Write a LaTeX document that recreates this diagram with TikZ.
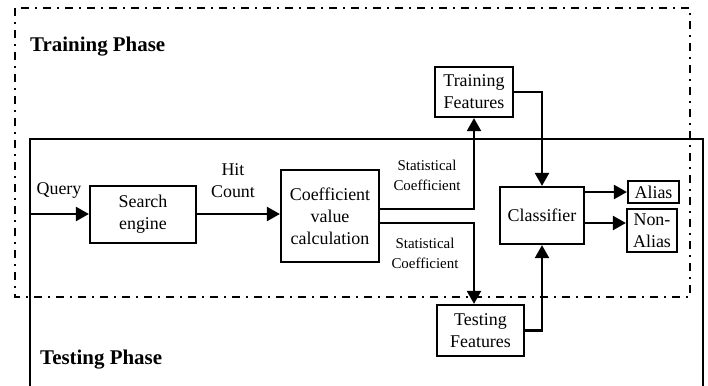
\documentclass[tikz,border=0pt]{standalone}
\usepackage{fontspec}
\setmainfont{Liberation Serif}
\usetikzlibrary{arrows.meta,calc}
\tikzset{
  block/.style={draw, line width=2.2bp, align=center, inner sep=0pt,
    font=\fontsize{18}{22}\selectfont},
  lbl/.style={align=center, inner sep=0pt, font=\fontsize{18}{22}\selectfont},
  small/.style={align=center, inner sep=0pt, font=\fontsize{15}{20}\selectfont},
  phase/.style={anchor=west, inner sep=0pt, font=\fontsize{21}{24}\selectfont\bfseries},
  arr/.style={line width=2.2bp, -{Triangle[length=13bp,width=14bp]}},
  dashdot/.style={line width=1.8bp, dash pattern=on 8bp off 6bp on 2bp off 6bp},
}
\begin{document}
\begin{tikzpicture}[x=1bp, y=-1bp]
\useasboundingbox (0,0) rectangle (708,385);

% phase frames
\draw[dashdot] (15,8) rectangle (690,297);
\draw[line width=1.7bp] (30,390) -- (30,139) -- (703,139) -- (703,390);
\node[phase] (trainph) at (30,47) {Training Phase};
\node[phase] (testph) at (40,360) {Testing Phase};

% blocks
\node[block, minimum width=106bp, minimum height=57bp] (search) at (143,214.5) {Search\\engine};
\node[block, minimum width=98bp, minimum height=92bp] (coef) at (330,216) {Coefficient\\value\\calculation};
\node[block, minimum width=78bp, minimum height=50bp] (trainf) at (474,92) {Training\\Features};
\node[block, minimum width=87bp, minimum height=51bp] (testf) at (480.5,330.5) {Testing\\Features};
\node[block, minimum width=84bp, minimum height=57bp] (clf) at (542,215.5) {Classifier};
\node[block, minimum width=51bp, minimum height=22bp] (alias) at (653.5,192) {Alias};
\node[block, minimum width=50bp, minimum height=43bp] (nonalias) at (652,230.5) {Non-\\Alias};

% labels
\node[lbl] (query) at (59,190) {Query};
\node[lbl] (hit) at (233,181) {Hit\\Count};
\node[small] (stat1) at (427,175) {Statistical\\Coefficient};
\node[small] (stat2) at (425,253) {Statistical\\Coefficient};

% connectors
\coordinate (qin) at (30,214);
\draw[arr] (qin) -- (qin -| search.west);
\draw[arr] (qin -| search.east) -- (qin -| coef.west);
\draw[arr] ([yshift=7bp]coef.east) -| (trainf.south);
\draw[arr] ([yshift=-7bp]coef.east) -| (trainf.south |- testf.north);
\draw[arr] (trainf.east) -| (clf.north);
\draw[arr] (testf.east) -| (clf.south);
\draw[arr] (clf.east |- alias.west) -- (alias.west);
\draw[arr] ([yshift=-7.5bp]clf.east) -- ([yshift=-7.5bp]clf.east -| nonalias.west);
\end{tikzpicture}
\end{document}
